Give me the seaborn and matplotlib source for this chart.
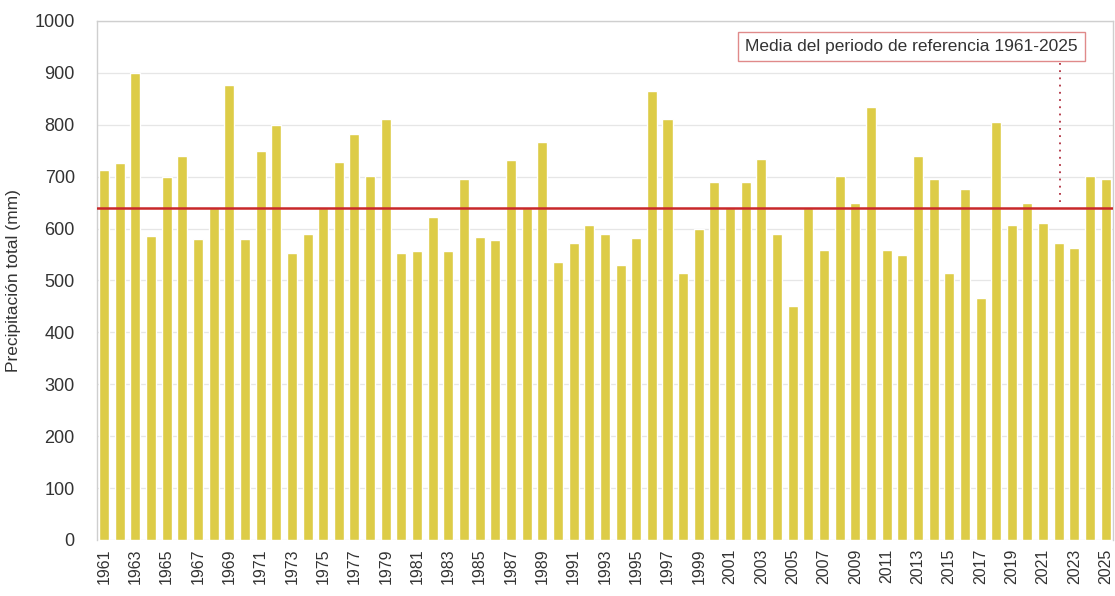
import matplotlib
matplotlib.use("Agg")
import matplotlib.pyplot as plt
import seaborn as sns
import pandas as pd

# Annual total precipitation (mm), 1961-2025
years = list(range(1961, 2026))
precip = [
    713, 726, 899, 586, 699, 740, 579, 639, 877, 580,
    750, 800, 552, 589, 639, 728, 782, 702, 810, 552,
    557, 623, 557, 696, 583, 578, 732, 639, 767, 535,
    572, 606, 590, 529, 582, 865, 811, 515, 600, 689,
    639, 689, 734, 589, 450, 639, 559, 702, 649, 834,
    559, 549, 740, 695, 515, 676, 467, 806, 607, 649,
    611, 572, 563, 702, 695,
]
reference_mean = 639
mean_label = "Media del periodo de referencia 1961-2025"
y_label = "Precipitación total (mm)"

df = pd.DataFrame({"year": [str(y) for y in years], "precip": precip})

sns.set_theme(style="white")
plt.rcParams["font.family"] = ["Liberation Sans", "DejaVu Sans"]

fig = plt.figure(figsize=(11.15, 5.96), dpi=100)
ax = fig.add_axes([0.087, 0.094, 0.911, 0.871])

sns.barplot(data=df, x="year", y="precip", color="#DDCC47", saturation=1,
            width=0.64, ax=ax, zorder=2)

# mean line and its label
ax.axhline(reference_mean, color="#C8282A", lw=1.8, zorder=3)
ax.text(40.95, 951, mean_label, fontsize=12.5, color="#333333",
        ha="left", va="center", zorder=5,
        bbox=dict(boxstyle="square,pad=0.42", fc="white", ec="#E08A8A", lw=1.0))
ax.plot([61.1, 61.1], [918, 652], color="#B03040", ls=(0, (1, 3)), lw=1.3, zorder=4)

ax.set_ylim(0, 1000)
ax.set_xlim(-0.45, 64.45)
ax.set_yticks(range(0, 1001, 100))
ax.tick_params(axis="y", labelsize=13, colors="#333333", length=0, pad=16)
ax.set_xticks(range(0, len(years), 2))
ax.set_xticklabels([str(y) for y in years[::2]], rotation=90, fontsize=11.5,
                   color="#333333")
ax.tick_params(axis="x", length=0, pad=6)

ax.yaxis.grid(True, color="#E6E6E6", lw=0.9, zorder=0)
ax.set_axisbelow(True)

for side in ["top", "right", "left"]:
    ax.spines[side].set_color("#CFCFCF")
    ax.spines[side].set_linewidth(1.0)
ax.spines["bottom"].set_visible(False)

ax.set_xlabel("")
ax.set_ylabel(y_label, fontsize=12.5, color="#333333", labelpad=10)

fig.savefig("out.png", dpi=100, facecolor="white")
